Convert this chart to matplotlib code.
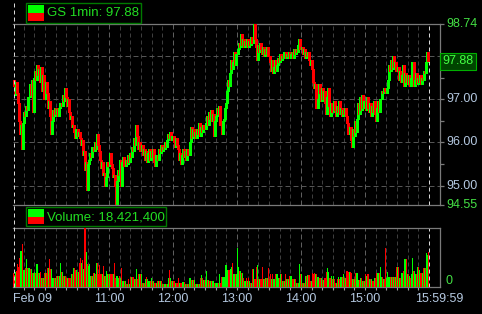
import matplotlib
matplotlib.use('Agg')
import matplotlib.pyplot as plt
from matplotlib.patches import Rectangle
from matplotlib.lines import Line2D
import matplotlib.transforms as mtrans

plt.rcParams['font.family'] = ['Liberation Sans', 'DejaVu Sans']

# ---------------- data ----------------
symbol_label = "GS 1min"
last_price = 97.88
total_volume = 18421400
date_label = "Feb 09"
hour_labels = ["11:00", "12:00", "13:00", "14:00", "15:00"]
hour_minutes = [90, 150, 210, 270, 330]
end_label = "15:59:59"
session_minutes = 390
price_major = [95.0, 96.0, 97.0]
price_grid = [95.0, 96.0, 97.0, 98.0]
price_minor = [95.5, 96.5, 97.5]
open_first = 97.45

close = [
    97.30, 97.10, 97.40, 97.15, 96.90, 96.50, 96.20, 96.40, 95.85, 96.45,
    96.70, 96.60, 96.85, 96.75, 97.05, 97.35, 97.10, 97.45, 96.70, 97.50,
    97.65, 97.45, 97.80, 97.55, 97.70, 97.40, 97.75, 97.20, 97.55, 97.00,
    97.40, 97.15, 96.80, 96.95, 96.60, 96.20, 96.50, 96.75, 96.60, 96.80,
    96.65, 96.78, 96.62, 96.80, 96.90, 96.85, 97.10, 96.95, 97.25, 97.05,
    96.85, 97.00, 96.70, 96.55, 96.60, 96.35, 96.40, 96.25, 96.10, 96.30,
    96.15, 96.25, 96.10, 95.95, 96.05, 95.70, 95.80, 95.35, 95.55, 94.90,
    95.50, 95.60, 95.75, 95.65, 95.90, 95.80, 96.00, 95.85, 96.20, 95.95,
    95.80, 95.60, 95.40, 95.55, 95.25, 95.30, 95.00, 95.20, 95.55, 95.45,
    95.75, 95.50, 95.40, 95.20, 95.25, 95.00, 94.55, 95.10, 95.35, 95.25,
    95.60, 95.00, 95.55, 95.65, 95.45, 95.60, 95.50, 95.70, 95.55, 95.75,
    95.65, 95.90, 95.80, 96.10, 95.95, 96.40, 96.15, 95.85, 96.00, 95.80,
    95.95, 95.70, 95.85, 95.60, 95.80, 95.55, 95.75, 95.85, 95.60, 95.80,
    95.65, 95.85, 95.55, 95.45, 95.70, 95.60, 95.85, 95.75, 95.95, 95.80,
    95.90, 95.85, 96.00, 95.90, 96.05, 96.20, 96.10, 96.25, 96.05, 96.15,
    96.00, 95.90, 96.10, 95.95, 95.85, 95.60, 95.75, 95.50, 95.70, 95.85,
    95.65, 95.80, 95.60, 95.85, 95.70, 96.00, 96.35, 96.10, 96.30, 96.15,
    96.25, 96.10, 96.30, 96.20, 96.45, 96.15, 96.35, 96.25, 96.40, 96.30,
    96.45, 96.60, 96.40, 96.70, 96.55, 96.75, 96.50, 96.65, 96.15, 96.50,
    96.60, 96.80, 96.65, 96.85, 96.40, 96.20, 96.50, 96.55, 96.80, 96.90,
    97.20, 97.45, 97.30, 97.60, 97.90, 97.70, 97.85, 98.10, 97.80, 98.05,
    98.15, 98.30, 98.20, 98.50, 98.25, 98.40, 98.20, 98.35, 98.25, 98.40,
    98.20, 98.35, 98.25, 98.45, 98.30, 98.74, 98.40, 98.20, 97.90, 98.25,
    98.10, 98.30, 98.15, 98.05, 98.20, 98.00, 98.15, 98.05, 98.20, 98.00,
    97.85, 97.65, 97.90, 97.60, 97.75, 97.90, 97.65, 97.80, 97.95, 97.85,
    98.05, 97.90, 98.00, 97.95, 98.10, 97.95, 98.05, 98.00, 98.10, 97.95,
    98.05, 98.10, 97.95, 98.15, 98.05, 98.15, 98.10, 98.25, 98.40, 98.15,
    98.20, 98.05, 98.15, 97.95, 98.10, 98.00, 98.10, 97.90, 97.80, 97.90,
    97.70, 97.40, 97.25, 97.35, 96.80, 97.00, 97.35, 97.15, 96.95, 97.25,
    97.00, 97.20, 96.90, 96.65, 97.05, 97.25, 96.85, 96.60, 96.90, 96.70,
    96.95, 96.75, 96.60, 96.85, 96.70, 96.95, 96.65, 96.80, 96.60, 96.75,
    96.65, 96.80, 96.60, 96.45, 96.20, 96.35, 96.05, 95.90, 96.30, 96.15,
    96.50, 96.25, 96.55, 96.90, 96.65, 97.05, 96.75, 97.10, 96.80, 96.95,
    96.75, 97.05, 96.80, 96.70, 96.90, 96.60, 96.85, 96.70, 96.95, 96.65,
    96.50, 96.80, 96.95, 96.70, 97.00, 97.20, 97.15, 97.25, 97.20, 97.15,
    97.25, 97.45, 97.80, 97.65, 97.90, 97.70, 98.00, 97.75, 97.85, 97.65,
    97.75, 97.45, 97.65, 97.40, 97.55, 97.80, 97.30, 97.60, 97.40, 97.55,
    97.35, 97.55, 97.30, 97.50, 97.85, 97.30, 97.45, 97.60, 97.35, 97.50,
    97.40, 97.55, 97.35, 97.50, 97.45, 97.65, 97.60, 97.85, 98.10, 97.88,
]

volume_k = [
    56, 48, 60, 64, 92, 80, 116, 144, 172, 68,
    68, 76, 112, 76, 76, 76, 72, 72, 56, 56,
    60, 56, 92, 56, 56, 60, 36, 36, 36, 56,
    56, 56, 76, 76, 112, 72, 72, 36, 36, 36,
    44, 44, 44, 44, 96, 60, 60, 44, 44, 44,
    36, 36, 36, 36, 52, 52, 76, 76, 68, 68,
    60, 60, 96, 116, 96, 108, 72, 236, 140, 92,
    84, 92, 44, 44, 44, 56, 56, 52, 96, 96,
    52, 88, 52, 52, 84, 44, 44, 64, 52, 52,
    52, 52, 52, 52, 52, 96, 36, 44, 36, 44,
    36, 76, 24, 24, 24, 24, 12, 12, 32, 12,
    40, 40, 40, 32, 32, 72, 32, 52, 52, 52,
    52, 16, 16, 16, 32, 40, 32, 24, 24, 36,
    24, 24, 16, 16, 16, 24, 24, 24, 24, 24,
    12, 12, 12, 12, 12, 36, 68, 36, 24, 24,
    24, 24, 16, 16, 16, 36, 16, 16, 20, 20,
    20, 12, 12, 12, 12, 36, 36, 28, 28, 28,
    28, 12, 12, 12, 12, 36, 48, 36, 28, 28,
    28, 64, 28, 28, 24, 24, 24, 24, 16, 16,
    16, 16, 16, 52, 16, 40, 40, 40, 40, 88,
    88, 68, 68, 72, 80, 96, 52, 52, 52, 52,
    156, 80, 64, 64, 56, 56, 36, 24, 36, 24,
    36, 24, 16, 16, 72, 72, 32, 32, 80, 88,
    32, 32, 32, 80, 32, 32, 36, 36, 36, 76,
    32, 52, 32, 52, 32, 32, 52, 52, 36, 36,
    52, 52, 24, 24, 24, 52, 32, 32, 32, 44,
    44, 44, 32, 32, 32, 16, 16, 16, 92, 52,
    52, 16, 16, 16, 44, 44, 48, 48, 24, 24,
    56, 52, 56, 52, 52, 40, 40, 36, 36, 36,
    28, 28, 36, 60, 76, 60, 36, 36, 44, 32,
    44, 32, 16, 16, 32, 40, 32, 40, 40, 52,
    36, 36, 64, 64, 60, 60, 60, 56, 32, 32,
    32, 56, 56, 28, 28, 36, 36, 24, 24, 24,
    52, 44, 52, 52, 32, 32, 32, 24, 36, 36,
    56, 56, 56, 56, 80, 40, 40, 32, 32, 156,
    36, 60, 40, 40, 40, 40, 40, 40, 40, 80,
    80, 80, 36, 36, 56, 56, 64, 112, 112, 52,
    52, 44, 36, 52, 116, 64, 64, 52, 52, 80,
    80, 68, 56, 56, 76, 76, 76, 136, 128, 140,
]

# ---------------- styling ----------------
W, H = 482, 314
BG = 'black'
UP = '#00ff00'
DN = '#ff0000'
AXIS_GRAY = '#7a7a7a'
LABEL_BLUE = '#b4c8e0'
LABEL_GREEN = '#44e044'
LEG_GREEN = '#22dd22'
FS = 9


def fx(px):
    return px / W


def fy(py):
    return 1 - py / H


fig = plt.figure(figsize=(W / 100, H / 100), dpi=100, facecolor=BG)

left_px, right_px = 13, 440
px_per_min = (429 - 13) / session_minutes
xmax = (right_px - left_px) / px_per_min

ax = fig.add_axes([fx(left_px), fy(205), fx(right_px) - fx(left_px), (205 - 24) / H])
axv = fig.add_axes([fx(left_px), fy(287), fx(right_px) - fx(left_px), (287 - 228) / H])

opens = [open_first] + close[:-1]
n = len(close)
xs = [i + 0.5 for i in range(n)]
colors = [UP if c >= o else DN for o, c in zip(opens, close)]
lows = [min(o, c) for o, c in zip(opens, close)]
highs = [max(o, c) for o, c in zip(opens, close)]
day_high = max(highs)
day_low = min(lows)

for a in (ax, axv):
    a.set_facecolor(BG)
    a.set_xlim(0, xmax)
    a.spines['left'].set_visible(False)
    for s in ('top', 'right', 'bottom'):
        a.spines[s].set_color(AXIS_GRAY)
        a.spines[s].set_linewidth(0.9)

# grid lines
minor_minutes = [m for m in range(10, session_minutes, 10) if m not in hour_minutes]
for a in (ax, axv):
    for m in minor_minutes:
        a.axvline(m, color='#3e3e3e', lw=0.72, dashes=(4, 3), zorder=0)
    for m in hour_minutes:
        a.axvline(m, color='#5e5e5e', lw=0.72, dashes=(5, 3), zorder=0)
    a.axvline(session_minutes, color='#d8d8d8', lw=0.72, dashes=(4, 3), zorder=0)
for p in price_grid:
    ax.axhline(p, color='#555555', lw=0.72, dashes=(5, 3), zorder=0)

# day separator spanning full height
fig.add_artist(Line2D([fx(left_px + 0.5)] * 2, [fy(3), fy(287)], color='#d8d8d8',
                      lw=0.72, dashes=(4, 3), zorder=1))

# candles
ax.vlines(xs, lows, highs, colors=colors, lw=0.8, zorder=3, antialiased=False)
ax.set_ylim(day_low, day_high)

# right axis ticks
ax.yaxis.tick_right()
ax.set_yticks([day_low] + price_major + price_minor + [day_high])
ax.set_yticklabels([])
ax.tick_params(axis='y', length=3, width=0.9, color=AXIS_GRAY, pad=2)
ax.set_xticks([])

ytr = mtrans.blended_transform_factory(fig.transFigure, ax.transData)
for p in price_major:
    ax.text(fx(446), p, f"{p:.2f}", transform=ytr, color=LABEL_BLUE, fontsize=FS,
            ha='left', va='center')
ax.text(fx(446), day_high, f"{day_high:.2f}", transform=ytr, color=LABEL_GREEN,
        fontsize=FS, ha='left', va='center')
ax.text(fx(446), day_low, f"{day_low:.2f}", transform=ytr, color=LABEL_GREEN,
        fontsize=FS, ha='left', va='center')
ax.text(fx(442.5), last_price, f"{last_price:.2f}", transform=ytr, color='#44ff44',
        fontsize=FS, ha='left', va='center', zorder=10,
        bbox=dict(boxstyle='square,pad=0.2', fc='#004400', ec='#00b000', lw=0.8))

# volume
axv.bar(xs, volume_k, width=1.0, color=colors, linewidth=0, zorder=3,
        antialiased=False)
axv.set_ylim(0, max(volume_k))
axv.set_yticks([])
axv.set_xticks(list(range(10, session_minutes, 10)))
axv.set_xticklabels([])
axv.tick_params(axis='x', length=2.5, width=0.8, color='#a0a0a0')
ytrv = mtrans.blended_transform_factory(fig.transFigure, axv.transData)
axv.text(fx(446), 0, "0", transform=ytrv, color=LABEL_GREEN, fontsize=FS,
         ha='left', va='bottom')

# x labels
xtr = mtrans.blended_transform_factory(axv.transData, fig.transFigure)
fig.text(fx(left_px), fy(299), date_label, color=LABEL_BLUE, fontsize=FS,
         ha='left', va='center')
for m, lab in zip(hour_minutes, hour_labels):
    axv.text(m, fy(299), lab, transform=xtr, color=LABEL_BLUE, fontsize=FS,
             ha='center', va='center')
fig.text(fx(439), fy(299), end_label, color=LABEL_BLUE, fontsize=FS,
         ha='center', va='center')


# legends
def legend_box(x0, y0, x1, y1, text):
    fig.add_artist(Rectangle((fx(x0), fy(y1)), fx(x1) - fx(x0), (y1 - y0) / H,
                             transform=fig.transFigure, fc=BG, ec='#007a00', lw=1.0,
                             zorder=20))
    mid = (y0 + y1) / 2
    fig.add_artist(Rectangle((fx(28), fy(mid)), fx(44) - fx(28), (mid - y0 - 2) / H,
                             transform=fig.transFigure, fc=UP, ec='none', zorder=21))
    fig.add_artist(Rectangle((fx(28), fy(y1 - 2)), fx(44) - fx(28), (y1 - 2 - mid) / H,
                             transform=fig.transFigure, fc=DN, ec='none', zorder=21))
    fig.text(fx(47), fy(mid + 0.5), text, color=LEG_GREEN, fontsize=FS + 0.5,
             ha='left', va='center', zorder=22)


legend_box(26, 3, 141, 23, f"{symbol_label}: {last_price:.2f}")
legend_box(26, 207, 166, 226, f"Volume: {total_volume:,}")

fig.savefig('out.png', dpi=100, facecolor=BG)
